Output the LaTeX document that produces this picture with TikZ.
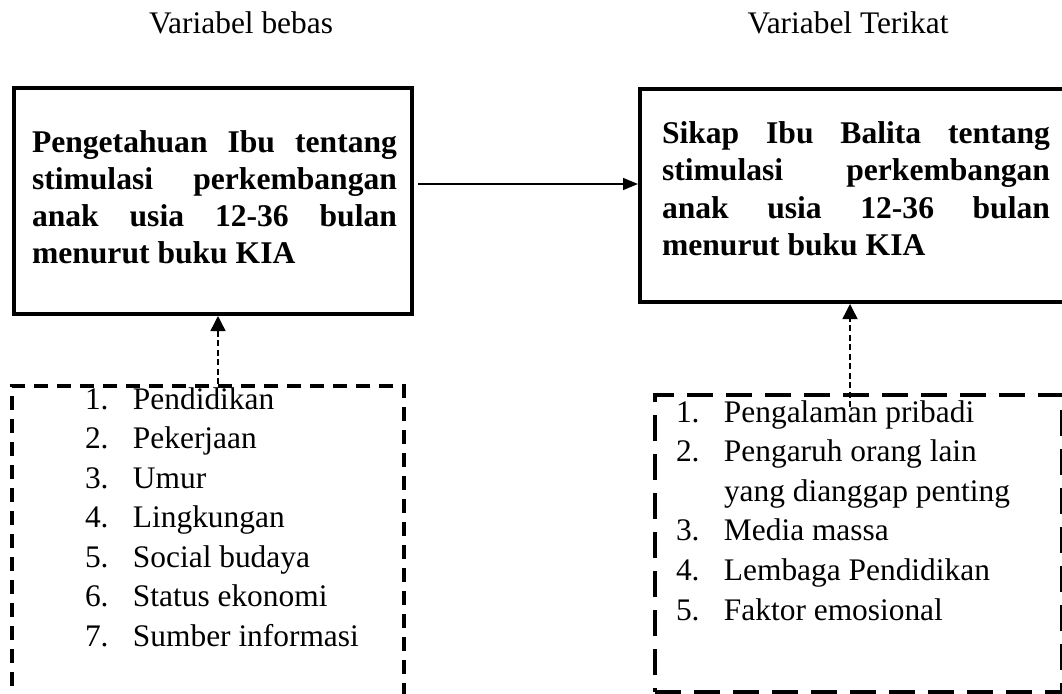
\documentclass[tikz,border=0pt]{standalone}
\usepackage{fontspec}
\setmainfont{Liberation Serif}
\usetikzlibrary{arrows.meta}
\begin{document}
\begin{tikzpicture}[x=1pt,y=-1pt,
  fs/.style={font=\fontsize{31.4}{37}\selectfont},
  bfs/.style={font=\fontsize{31.6}{37}\selectfont\bfseries},
  txt/.style={inner sep=0pt, outer sep=0pt, anchor=base west},
  mainbox/.style={draw, line width=4pt, anchor=north west, inner sep=0pt},
  dbox/.style={draw, line width=4pt, anchor=north west, inner sep=0pt},
  solidarrow/.style={line width=1.5pt, -{Triangle[length=15pt,width=12pt]}},
  dasharrow/.style={line width=1.4pt, dash pattern=on 6pt off 3.5pt, -{Triangle[length=15pt,width=15pt]}}
]
\clip (0,0) rectangle (1062,693);
\fill[white] (0,0) rectangle (1062,693);

% titles
\node[txt, fs, anchor=base] (t1) at (241,34) {Variabel bebas};
\node[txt, fs, anchor=base] (t2) at (848,34) {Variabel Terikat};

% main boxes
\node[mainbox, minimum width=398pt, minimum height=226pt] (lbox) at (12,86) {};
\node[mainbox, minimum width=440pt, minimum height=213pt] (rbox) at (638,87) {};

% left bold text
\node[txt, bfs] (l1) at (32,152) {\makebox[365pt][s]{Pengetahuan Ibu tentang}};
\node[txt, bfs] (l2) at (32,189.5) {\makebox[365pt][s]{stimulasi perkembangan}};
\node[txt, bfs] (l3) at (32,226) {\makebox[365pt][s]{anak usia 12-36 bulan}};
\node[txt, bfs] (l4) at (32,263) {menurut buku KIA};

% right bold text
\node[txt, bfs] (r1) at (662,143) {\makebox[388pt][s]{Sikap Ibu Balita tentang}};
\node[txt, bfs] (r2) at (662,180.5) {\makebox[388pt][s]{stimulasi perkembangan}};
\node[txt, bfs] (r3) at (662,218) {\makebox[388pt][s]{anak usia 12-36 bulan}};
\node[txt, bfs] (r4) at (662,255.5) {menurut buku KIA};

% dashed boxes
\node[dbox, dash pattern=on 14pt off 9pt, minimum width=392pt, minimum height=310pt] (ldash) at (10,384) {};
\node[dbox, dash pattern=on 26pt off 13pt, minimum width=407pt, minimum height=297pt] (rdash) at (653,393) {};

% left list
\foreach \n/\t [count=\i from 0] in {1./Pendidikan, 2./Pekerjaan, 3./Umur, 4./Lingkungan, 5./Social budaya, 6./Status ekonomi, 7./Sumber informasi}{
  \node[txt, fs] (li\i) at (85,409+39.5*\i) {\makebox[48pt][l]{\n}\t};
}
% right list
\node[txt, fs] (ri1) at (676,422) {\makebox[48pt][l]{1.}Pengalaman pribadi};
\node[txt, fs] (ri2) at (676,461.6) {\makebox[48pt][l]{2.}Pengaruh orang lain};
\node[txt, fs] (ri2b) at (676,501.2) {\makebox[48pt][l]{}yang dianggap penting};
\node[txt, fs] (ri3) at (676,540.8) {\makebox[48pt][l]{3.}Media massa};
\node[txt, fs] (ri4) at (676,580.4) {\makebox[48pt][l]{4.}Lembaga Pendidikan};
\node[txt, fs] (ri5) at (676,620) {\makebox[48pt][l]{5.}Faktor emosional};

% connectors
\draw[solidarrow] (lbox.east |- 0,184) ++(4,0) -- (rbox.west |- 0,184);
\draw[dasharrow] (ldash.north -| 218,0) -- (218,316);
\draw[dasharrow] (850,407) -- (rbox.south -| 850,0);
\end{tikzpicture}
\end{document}
